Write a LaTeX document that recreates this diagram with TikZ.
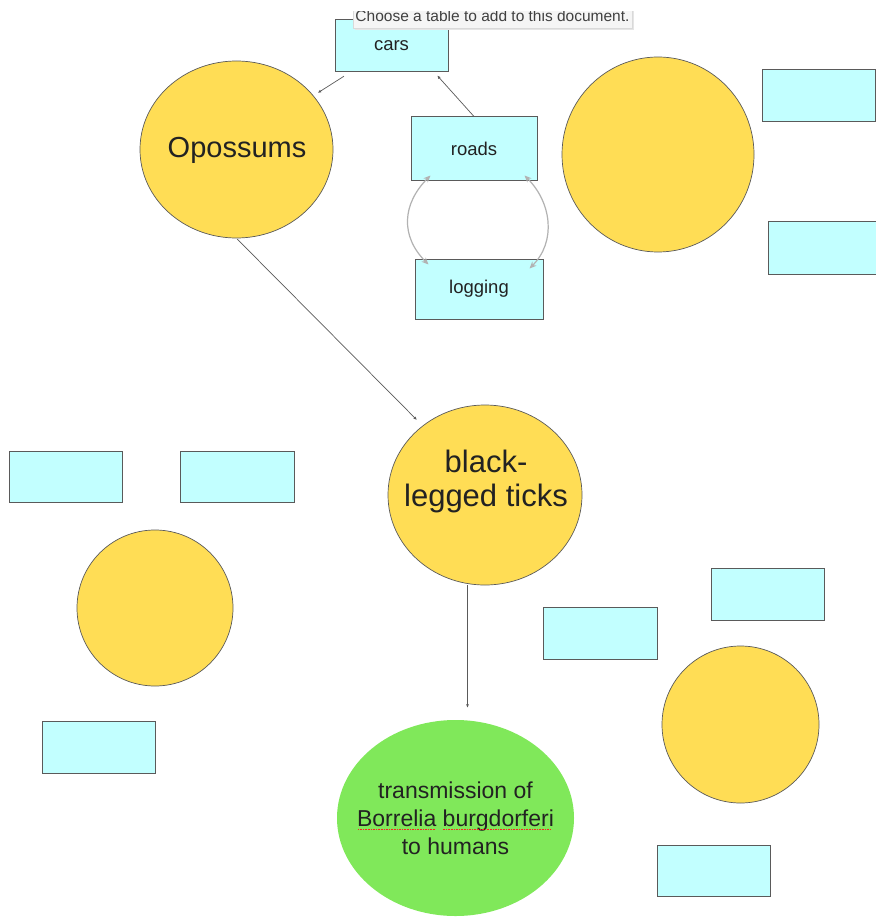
\documentclass[tikz,border=0pt]{standalone}
\usepackage{fontspec}
\setmainfont{Liberation Sans}
\usetikzlibrary{shapes.geometric,arrows.meta}
\definecolor{yel}{HTML}{FFDD55}
\definecolor{cyanbox}{HTML}{C2FFFF}
\definecolor{grn}{HTML}{80E85A}
\definecolor{edge}{HTML}{5A5A5A}
\definecolor{txt}{HTML}{222222}
\definecolor{squig}{HTML}{FF2020}
\newcommand\redul[1]{\sbox0{#1}\rlap{\usebox0}\raisebox{-4pt}{\textcolor{squig}{\leaders\hbox to 2.6pt{\hss\rule{1.6pt}{1.6pt}\hss}\hskip\wd0}}}
\tikzset{
  bubble/.style={ellipse, draw=edge, line width=0.7pt, fill=yel, inner sep=0pt},
  bigtext/.style={inner sep=0pt, text=txt, align=center},
  cbox/.style={rectangle, draw=edge, line width=1pt, fill=cyanbox, inner sep=0pt, minimum width=113pt, minimum height=52pt, text=txt, font=\fontsize{18.5}{22}\selectfont},
  arr/.style={draw=edge, line width=0.7pt, -{Latex[length=3.5pt,width=3pt]}},
  cyc/.style={draw=black!30, line width=1.2pt, {Stealth[length=7pt,width=6pt,open]}-{Stealth[length=7pt,width=6pt,open]}}
}
\begin{document}
\begin{tikzpicture}[x=1pt,y=-1pt]
\useasboundingbox (0,0) rectangle (875,917);
\fill[white] (0,0) rectangle (875,917);
% boxes
\node[cbox] (cars) at (391.5,46) {cars};
\node[cbox, minimum width=126pt, minimum height=64pt] (roads) at (474,149) {roads};
\node[cbox, minimum width=128pt, minimum height=60pt] (logging) at (479,289) {logging};
\node[cbox] (tr1) at (818.5,96) {};
\node[cbox] (tr2) at (824.5,248) {};
\node[cbox, minimum height=51pt] (l1) at (65.5,476.5) {};
\node[cbox, minimum width=114pt, minimum height=51pt] (l2) at (237,476.5) {};
\node[cbox] (l3) at (98.5,747) {};
\node[cbox, minimum width=114pt] (cr) at (600,633) {};
\node[cbox] (r1) at (767.5,594) {};
\node[cbox, minimum height=51pt] (br) at (714,870.5) {};
% circles
\node[bubble, minimum width=193pt, minimum height=177pt] (opo) at (236.5,149.5) {};
\node[bigtext, anchor=base, font=\fontsize{29}{34}\selectfont] (opotext) at (237,158) {Opossums};
\node[bubble, minimum width=192pt, minimum height=195pt] (trc) at (658,154.5) {};
\node[bubble, minimum width=194pt, minimum height=180pt] (ticks) at (485,495) {};
\node[bigtext, font=\fontsize{31}{34}\selectfont] (tickstext) at (486,481) {black-\\legged ticks};
\node[bubble, minimum width=156pt, minimum height=156pt] (lc) at (155,608) {};
\node[bubble, minimum width=157pt, minimum height=157pt] (rc) at (740.5,724.5) {};
\node[ellipse, fill=grn, inner sep=0pt, minimum width=237pt, minimum height=196pt] (green) at (455.5,818) {};
\node[bigtext, font=\fontsize{23}{28}\selectfont] (greentext) at (455.5,818) {transmission of\\\redul{Borrelia} \redul{burgdorferi}\\to humans};
% connectors
\draw[arr, shorten <=7pt, shorten >=5pt] (cars) -- (opo.35);
\draw[arr, shorten >=4pt] (roads.north) -- ([xshift=-14pt]cars.south east);
\draw[arr, shorten <=1pt, shorten >=8pt] (opo.south) -- (ticks.132);
\draw[arr, shorten >=12pt] ([xshift=12pt]green.north |- ticks.south) -- ([xshift=12pt]green.north);
\draw[cyc] ([xshift=20pt,yshift=6pt]roads.south west) to[out=225,in=135,looseness=1.15] ([xshift=14pt,yshift=-6pt]logging.north west);
\draw[cyc] ([xshift=-13pt,yshift=6pt]roads.south east) to[out=-45,in=45,looseness=1.05] ([xshift=-14pt,yshift=-10pt]logging.north east);
% tooltip
\begin{scope}
\clip (352,12) rectangle (634,32);
\fill[black!10] (355,-10) rectangle (634,30);
\node[rectangle, fill=black!4, draw=black!15, line width=0.5pt, minimum width=279pt, minimum height=37pt, inner sep=0pt] (tip) at (492.5,9.5) {};
\node[anchor=base, text=black!75, font=\fontsize{15.5}{18}\selectfont, inner sep=0pt] (tiptext) at (492.5,22) {Choose a table to add to this document.};
\end{scope}
\end{tikzpicture}
\end{document}
